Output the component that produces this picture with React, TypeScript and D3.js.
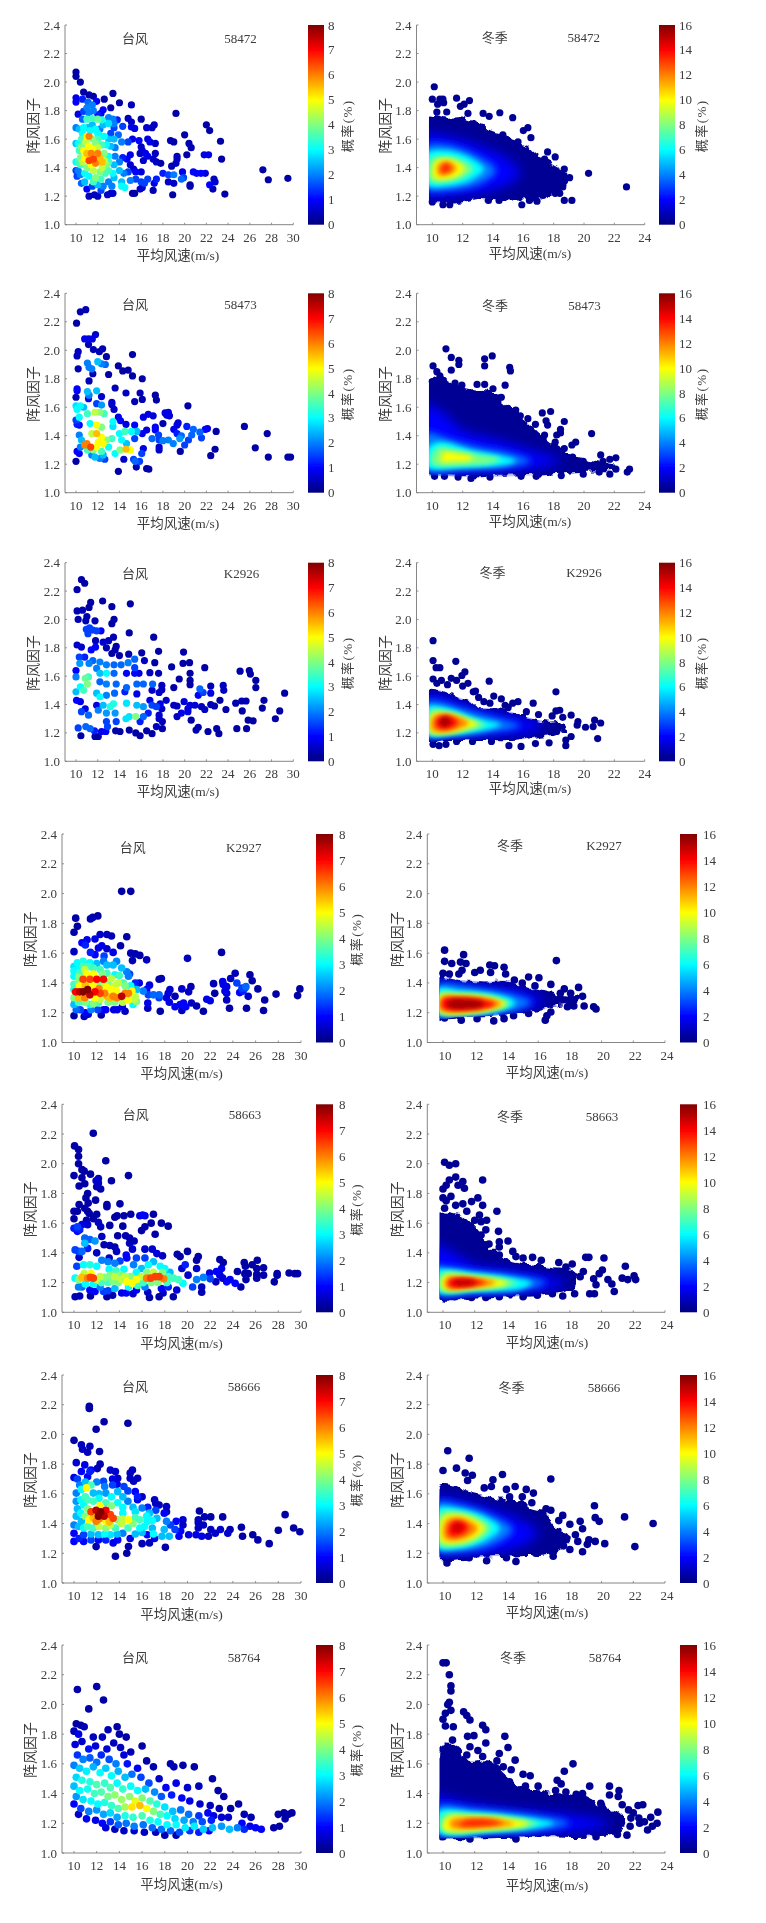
import React from "react";
import * as d3 from "d3";

type P = number[];
const stations = ["58472", "58473", "K2926", "K2927", "58663", "58666", "58764"];
const yTicks = [1.0, 1.2, 1.4, 1.6, 1.8, 2.0, 2.2, 2.4];
const xTicksTyphoon = [10, 12, 14, 16, 18, 20, 22, 24, 26, 28, 30];
const xTicksWinter = [10, 12, 14, 16, 18, 20, 22, 24];
const cbTicksTyphoon = [0, 1, 2, 3, 4, 5, 6, 7, 8];
const cbTicksWinter = [0, 2, 4, 6, 8, 10, 12, 14, 16];

const typhoon58472: P[] = [[10,2.07,.3],[10,2.04,.3],[10.4,2,.3],[10.7,1.93,.3],[10,1.89,.8],[11.2,1.91,.3],[11.6,1.9,.3],[12.6,1.88,.3],[13.4,1.92,.3],[14,1.855,.3],[15.1,1.84,.5],[11.9,1.865,1],[13.2,1.82,.3],[10,1.86,1],[10.6,1.88,1.2],[11.1,1.86,1.8],[11.5,1.84,2],[11,1.82,2],[11.6,1.8,2],[11.2,1.78,2],[10.2,1.775,.8],[10.7,1.795,1.5],[12.5,1.805,1],[12.3,1.78,.8],[12,1.77,1.2],[11,1.74,3.5],[11.5,1.745,3.5],[12,1.74,3.8],[12.4,1.735,3.2],[13,1.75,2],[13.4,1.74,2],[13.8,1.735,1.2],[14.8,1.745,.5],[15.1,1.72,.5],[15.1,1.685,.8],[15.4,1.675,.8],[16,1.74,.3],[13,1.71,2.8],[13.5,1.71,2],[13.5,1.68,1.5],[14.3,1.69,1.5],[12.5,1.7,2.5],[11.2,1.62,6],[11,1.5,5.5],[11.2,1.45,6.5],[11.6,1.46,6.5],[12,1.5,6],[12.4,1.44,5.5],[10.7,1.52,5],[11,1.62,5],[10.9,1.58,4.5],[11.5,1.6,4],[12,1.6,3.5],[12.4,1.62,3],[10.5,1.6,3.5],[10.2,1.57,3],[10,1.57,2.5],[10.3,1.52,3.5],[10.2,1.44,3.5],[10,1.44,3],[10.6,1.44,4.5],[11.5,1.53,5],[12,1.54,4.5],[12.6,1.5,4],[12.8,1.42,4],[11,1.4,4],[11.6,1.38,4.5],[12.2,1.37,4],[12.7,1.36,3.5],[11.2,1.34,3],[11.8,1.33,4],[12.3,1.32,3.5],[10.8,1.3,2.5],[12,1.28,2.5],[12.5,1.27,2],[10.2,1.38,2],[10.4,1.35,2],[10,1.38,1.5],[10.1,1.34,1.5],[10.5,1.29,1.8],[11,1.25,1],[11.5,1.27,1.5],[12.3,1.24,1.5],[11.2,1.2,.5],[11.7,1.21,.5],[12,1.2,.5],[12.9,1.21,.6],[13.2,1.22,.6],[13.4,1.22,.6],[13,1.3,2],[13.3,1.27,2],[14.2,1.27,3],[14.5,1.26,3],[15,1.31,2],[13.5,1.33,2.5],[13,1.38,3.5],[13.5,1.42,2.5],[14,1.38,2.5],[13,1.48,3],[13.6,1.48,2],[13.2,1.55,2.5],[12.8,1.56,3],[13.5,1.6,2.5],[13.9,1.63,1.8],[13.2,1.64,1.5],[12.2,1.67,2],[11.1,1.68,2.5],[10.3,1.67,2.5],[10,1.68,2],[10.7,1.68,3],[11.5,1.7,2.5],[12.6,1.62,3],[14.2,1.58,2],[14.8,1.58,1.5],[14.3,1.47,1.2],[14.7,1.46,1],[15,1.49,.8],[15,1.42,.6],[15.3,1.39,.6],[14.8,1.37,1.5],[15.5,1.37,1],[16,1.37,.7],[15.2,1.22,.3],[15.4,1.22,.3],[15.9,1.25,.6],[16.1,1.26,.6],[15.5,1.32,1.5],[16,1.3,1.5],[16.6,1.32,1.5],[16.3,1.29,1.5],[17.2,1.29,.8],[17.4,1.32,1.2],[17.1,1.24,.4],[15.2,1.6,.8],[15.8,1.59,1],[16.6,1.6,.8],[16.8,1.58,.8],[16,1.545,.5],[16.1,1.52,.6],[15.9,1.5,.6],[16.4,1.5,.8],[16.2,1.45,.6],[16.6,1.48,.8],[17.3,1.57,.5],[17.3,1.5,.5],[17.1,1.46,.5],[17.4,1.44,.5],[17.8,1.43,.3],[16.5,1.68,.6],[17,1.68,.5],[17.2,1.7,.5],[19.2,1.78,.3],[18.7,1.59,.4],[19,1.58,.3],[20,1.63,.3],[20.4,1.57,.4],[20.6,1.54,.4],[19.3,1.48,.5],[19.3,1.46,.5],[19.2,1.43,.5],[20.2,1.49,.3],[18.8,1.41,.4],[18.5,1.3,.6],[18,1.36,1.2],[18.5,1.35,1.5],[19,1.35,2],[19,1.29,.5],[19.8,1.37,.8],[19.9,1.33,1.5],[19.7,1.32,1.8],[18.9,1.21,.3],[20.5,1.28,.4],[20.5,1.27,.4],[20.8,1.37,1],[21.1,1.36,1],[21.5,1.36,1],[21.9,1.36,.7],[22,1.7,.3],[22.3,1.66,.3],[22.2,1.49,.8],[21.8,1.49,.8],[23.3,1.585,.3],[23.4,1.46,.3],[22.7,1.32,.5],[22.8,1.3,.6],[22.3,1.28,1],[22.6,1.25,.4],[23.7,1.215,.3],[27.2,1.385,.3],[27.7,1.315,.3],[29.5,1.325,.3],[10.4,1.47,4],[10.8,1.47,5],[11.4,1.5,6],[11.8,1.43,6],[12.2,1.47,5.5],[12.6,1.45,4.5],[10.5,1.55,4],[11.2,1.55,5],[11.8,1.57,4],[11.3,1.66,3],[10.6,1.64,3],[12.4,1.56,3.5],[13,1.6,2.5],[12,1.64,3],[13,1.44,3.5],[11.4,1.42,5],[10.8,1.36,3],[12.4,1.4,4.5],[13.4,1.36,3],[11.6,1.3,3.5],[10.4,1.42,3.5],[13.6,1.54,2],[10.6,1.74,1.8],[11.8,1.67,3],[14,1.44,2],[14.4,1.36,2],[14.2,1.3,2.5]];

const typhoon58473: P[] = [[10.9,2.285,.4],[10.4,2.27,.4],[10.05,2.19,.3],[10.8,2.08,.8],[11.15,2.08,.8],[11.5,2.08,.8],[11.8,2.11,.6],[11.15,2.04,.4],[11.6,2.005,.4],[12.15,1.99,.4],[12.45,2.01,.4],[12.8,1.955,.3],[10.2,1.99,.5],[10.1,1.96,.5],[15.2,1.97,.3],[10.2,1.87,.4],[11.05,1.91,2],[11.2,1.88,2],[11.45,1.87,2],[12,1.92,2.5],[12.35,1.905,2],[12.7,1.9,1.8],[11.55,1.835,.4],[13,1.83,.3],[13.9,1.89,.3],[14.3,1.855,.3],[14.8,1.86,.3],[15.2,1.82,.3],[16.1,1.8,.3],[11.2,1.785,.4],[10.1,1.73,1],[10.1,1.715,1],[10,1.67,.4],[11.05,1.71,2.5],[11.2,1.685,2],[11.15,1.66,.8],[11.9,1.715,2.5],[12.35,1.675,.6],[13.6,1.735,.4],[14.6,1.7,.5],[15.9,1.7,.4],[16.1,1.655,.4],[15.4,1.64,.4],[17.3,1.685,.3],[17.4,1.65,.3],[13.3,1.635,.6],[13.3,1.62,.6],[13.5,1.585,.6],[20.3,1.61,.3],[10,1.61,2.8],[10.4,1.61,3],[10.1,1.585,3],[10.7,1.6,2.5],[11.9,1.625,1.5],[12.35,1.615,2.2],[11.05,1.555,3.5],[11.75,1.565,4.5],[12.2,1.565,4],[12.6,1.555,3.5],[10.3,1.53,3],[10,1.51,1.5],[10.1,1.48,1.2],[10.3,1.475,1],[11.3,1.485,3],[11.9,1.475,5],[12.35,1.46,4],[13.4,1.5,3],[13.4,1.465,2.8],[13.9,1.53,.8],[14.1,1.505,1],[14.6,1.48,.7],[15.4,1.475,1],[16.2,1.53,.8],[16.65,1.55,.8],[17.1,1.54,.7],[16.5,1.44,.7],[16.1,1.415,.9],[17.3,1.46,1],[17.3,1.44,1],[17,1.38,1.8],[17.6,1.405,1.5],[18,1.485,.4],[18.2,1.56,.8],[18.5,1.565,.8],[18.35,1.545,.8],[18.6,1.54,.6],[19.4,1.49,.7],[19.3,1.475,.7],[19,1.445,.9],[19.3,1.415,1.2],[20.2,1.465,1.2],[19.7,1.4,1.8],[19.55,1.38,2.2],[20.8,1.445,1.8],[21.4,1.425,1.8],[21.9,1.445,1],[22.1,1.45,.8],[21.55,1.385,1.5],[20.65,1.405,1.8],[20.35,1.37,1.5],[20,1.335,1.5],[17.65,1.37,1.5],[18,1.365,2],[18.5,1.37,2],[18.95,1.345,2],[17.65,1.32,.6],[17.65,1.3,.6],[19.6,1.29,.3],[22.9,1.43,.3],[25.5,1.465,.3],[27.6,1.415,.3],[26.5,1.315,.3],[22.8,1.305,.3],[22.4,1.26,.3],[27.7,1.25,.3],[29.5,1.25,.3],[29.75,1.25,.3],[11,1.345,6],[11.35,1.32,6.5],[10.8,1.335,6],[11.6,1.3,4],[11.05,1.3,3.5],[10.5,1.37,2.5],[10.3,1.405,2],[10.4,1.32,2],[10.1,1.29,1],[10.3,1.275,1],[10,1.22,.3],[11.45,1.265,2],[12.05,1.355,5],[12.35,1.39,5],[11.9,1.415,5.5],[11.45,1.415,4.5],[12.5,1.345,5],[11.9,1.32,5],[12.8,1.37,4],[13.3,1.38,3.5],[13,1.32,3],[12.35,1.29,3.5],[11.75,1.25,2.5],[12.2,1.24,2],[12.65,1.235,1.5],[12.5,1.265,2.5],[13.6,1.275,3],[14.05,1.3,4],[14.6,1.305,5.5],[15,1.3,5],[14.2,1.37,3],[14.5,1.43,3.5],[15.1,1.43,3],[15.6,1.43,2.5],[14,1.415,3],[14.65,1.345,2.5],[15.4,1.38,1.5],[14.4,1.235,.6],[15.3,1.235,1.5],[15.45,1.22,1.8],[15.85,1.22,1.5],[16.05,1.275,1.5],[16.2,1.31,.8],[15.55,1.18,.4],[16.5,1.17,.3],[16.7,1.165,.3],[13.9,1.15,.3]];

const typhoonK2926: P[] = [[10.5,2.28,.3],[10.8,2.255,.3],[10.1,2.21,.3],[11.35,2.12,.3],[12.45,2.13,.3],[13.3,2.09,.3],[15,2.11,.3],[11.2,2.085,.3],[10.1,2.06,.4],[10.6,2.065,.4],[11,2.02,.4],[10.9,1.99,.4],[10.2,2,.4],[11.75,1.99,.4],[13.5,2,.3],[13.3,1.97,.3],[10.95,1.93,1.5],[11.25,1.94,1.5],[11.55,1.925,1.5],[11.1,1.9,1.5],[11.9,1.92,1.5],[12.3,1.92,1],[14.9,1.905,.3],[17.15,1.875,.3],[13.45,1.875,.4],[13,1.85,.5],[12.5,1.84,.6],[11.8,1.85,.4],[10.1,1.82,.6],[10.5,1.805,.6],[11.8,1.805,1],[11.4,1.785,1],[12.8,1.8,.4],[13.7,1.81,.3],[13.6,1.785,.3],[13.3,1.76,.3],[14,1.745,.3],[14.85,1.755,.4],[16.05,1.765,.3],[17.6,1.775,.3],[19.9,1.77,.3],[16.3,1.71,.5],[17.25,1.695,.3],[18.8,1.665,.3],[19.85,1.69,.3],[20.45,1.695,.3],[21.85,1.66,.3],[20.5,1.62,.3],[19.5,1.58,.3],[25.1,1.635,.3],[25.95,1.64,.3],[26.05,1.615,.3],[26.55,1.57,.3],[26.55,1.52,.3],[20.5,1.57,.3],[20.5,1.54,.3],[19,1.52,.3],[17.6,1.62,.4],[16.8,1.625,.5],[17.9,1.535,.5],[17.65,1.485,.6],[17.9,1.505,.5],[23.55,1.535,.5],[22.4,1.53,.4],[23.6,1.5,.5],[21.4,1.51,1.8],[21.7,1.485,1.5],[21.25,1.465,1],[22.4,1.48,.8],[29.2,1.48,.3],[27.3,1.43,.3],[27.15,1.375,.3],[28.75,1.355,.3],[28.35,1.3,.3],[26.3,1.285,.3],[25.85,1.29,.3],[25.7,1.23,.3],[24.8,1.23,.3],[25.3,1.355,.3],[25.65,1.425,.4],[25.25,1.425,.4],[24.7,1.41,.4],[23.8,1.365,.3],[23.25,1.43,.3],[22.75,1.39,.4],[22.4,1.4,.4],[21.85,1.365,.5],[21.55,1.385,.5],[20.95,1.395,.7],[20.5,1.395,.7],[20.3,1.37,.7],[19.95,1.42,.7],[19.3,1.39,.5],[19,1.395,.5],[20.3,1.35,.8],[19.7,1.34,.8],[19.3,1.315,.5],[20.6,1.29,.3],[21.25,1.24,.4],[21.05,1.22,.4],[22.15,1.21,.3],[22.95,1.23,.3],[23.15,1.195,.3],[18.3,1.43,.6],[17.75,1.405,.8],[17.9,1.37,.6],[17.65,1.325,.6],[17.95,1.28,.4],[17.95,1.23,.3],[17.4,1.245,.5],[17.65,1.3,.6],[17,1.195,.3],[16.5,1.215,.3],[15.9,1.18,.3],[15.5,1.2,.3],[14.9,1.22,.3],[14.05,1.21,.3],[13.65,1.215,.3],[11.75,1.175,.3],[12.05,1.175,.3],[10.45,1.18,.3],[10.2,1.235,1.5],[10.9,1.245,1.8],[11.3,1.23,1.8],[11.7,1.215,1.2],[12.35,1.21,.8],[12.75,1.21,1],[12.9,1.245,1.5],[12.8,1.28,1.5],[13.7,1.28,1.5],[14.9,1.315,2.8],[15.5,1.315,4],[14.6,1.3,2.8],[16.2,1.315,1.8],[15.9,1.28,1.2],[16.65,1.34,1.2],[16.2,1.385,2.2],[15.6,1.395,2.5],[14.65,1.41,2.8],[13.45,1.405,3.2],[13.15,1.385,3.2],[12.5,1.395,2.5],[13.6,1.34,2.2],[12.8,1.34,2.2],[12.05,1.36,2],[11.15,1.325,1.8],[10.5,1.35,1.5],[10.85,1.37,.8],[11.9,1.395,.8],[10.05,1.43,1],[10.4,1.42,.8],[10,1.49,2.5],[10.7,1.5,3.5],[11.05,1.545,4],[10.85,1.585,3.8],[11.15,1.595,3.5],[10.4,1.525,3],[10,1.595,2],[10,1.64,1],[10.3,1.735,1.5],[10.35,1.69,2.2],[10.8,1.735,1.2],[11.2,1.69,2],[11.55,1.71,1.8],[12.2,1.7,2],[11.9,1.655,2],[12.8,1.68,2],[13.5,1.68,1.8],[14.15,1.68,1.8],[14.8,1.695,2],[15.4,1.72,1.8],[15.4,1.66,1.5],[12.8,1.62,3],[12.2,1.62,2.5],[13.5,1.62,1.8],[14.65,1.62,1],[15.4,1.62,1],[15.8,1.62,.8],[12.2,1.56,1.8],[12.8,1.545,2],[13.7,1.545,1.8],[14.65,1.52,1.8],[15.6,1.545,1.8],[16.2,1.545,1.8],[17.05,1.545,1.8],[15.6,1.475,.8],[14.5,1.49,1.2],[13.55,1.48,1.8],[12.8,1.465,2],[11.9,1.48,2.5],[12.2,1.455,3],[16.8,1.43,.8],[17,1.5,.6],[17,1.395,1.5],[17.4,1.385,1.5]];

const typhoonK2927: P[] = [[14.2,2.015,.3],[15,2.015,.3],[10.15,1.835,.3],[10.3,1.78,.3],[10,1.74,.3],[11.45,1.83,.4],[11.65,1.84,.4],[12.1,1.85,.3],[11.15,1.69,.8],[10.7,1.67,1],[11,1.655,1.2],[11.85,1.695,.8],[12.3,1.725,.6],[12.9,1.725,.5],[13.3,1.715,.4],[14.65,1.71,.3],[10,1.61,.5],[12.15,1.635,.8],[12.45,1.65,.8],[12.9,1.63,.6],[14.1,1.65,.3],[13.45,1.605,.8],[11.45,1.605,1.2],[11.85,1.59,1],[15,1.6,.4],[15.4,1.595,.4],[15.8,1.585,.3],[16.4,1.555,.5],[15.15,1.55,.4],[12.65,1.58,1.5],[20,1.565,.5],[23,1.605,.3],[10.8,1.34,8],[11.2,1.355,8],[10.5,1.34,7.5],[10.15,1.34,7],[11.4,1.32,7.5],[11.85,1.34,7],[12.3,1.33,6.5],[10.95,1.3,6],[10.4,1.3,5.5],[11.85,1.3,5],[10.8,1.425,6.5],[11.4,1.425,6.5],[12,1.425,7],[12.6,1.425,7],[11.25,1.39,5],[12.3,1.39,4],[10.4,1.4,4],[10,1.355,3],[10,1.445,3],[10.5,1.465,3.5],[10,1.51,2.8],[10.3,1.535,3],[10.8,1.545,3.2],[11.4,1.535,3],[11.7,1.5,3.5],[10.95,1.49,4.5],[12.3,1.49,3.5],[12.9,1.465,3.5],[13.45,1.52,2.5],[12.6,1.545,2],[13.75,1.545,2],[14.2,1.5,2.5],[13.6,1.455,3],[13,1.4,4],[13.9,1.4,4.5],[14.35,1.4,3.5],[14.8,1.445,2],[14.65,1.475,2],[14.9,1.46,1.5],[13.3,1.355,5],[12.9,1.31,5.5],[13.45,1.31,6],[14.2,1.31,7.5],[14.5,1.33,6],[13.75,1.345,5],[15.1,1.345,5],[14.8,1.285,5],[15.4,1.31,4.5],[15.5,1.275,4],[15.2,1.255,3],[12.15,1.265,3.5],[11.4,1.255,3],[10.7,1.275,3],[10,1.255,2.5],[10.1,1.275,2.5],[10.55,1.22,1.5],[11,1.2,1],[11.25,1.19,.6],[10,1.18,.3],[10.9,1.175,.4],[12.6,1.22,1],[12.8,1.22,1],[12.4,1.185,.3],[13.5,1.22,.8],[13.8,1.22,.8],[14.25,1.24,.8],[14.5,1.21,.5],[15.75,1.4,.8],[15.4,1.4,1.2],[15.5,1.355,2.5],[16.1,1.345,2],[16.55,1.32,1.5],[17,1.32,1.8],[17.5,1.32,1.8],[17.5,1.3,1.5],[16.65,1.385,.8],[16.4,1.355,1],[16.5,1.23,.5],[16.5,1.265,.8],[17.6,1.21,.3],[17.5,1.425,.4],[17.7,1.43,.4],[18.45,1.355,.6],[18.3,1.33,.7],[18.15,1.3,.7],[18.4,1.27,.8],[18.9,1.31,.4],[18.9,1.24,.9],[19.5,1.36,.6],[20.3,1.375,.4],[20.1,1.34,.5],[19.35,1.255,1],[19.65,1.265,1],[19.85,1.24,1],[19.5,1.215,.5],[20.35,1.265,.5],[20.8,1.245,.4],[21.4,1.21,.3],[21.7,1.29,.8],[22,1.28,.8],[22.4,1.33,.3],[22.3,1.395,.4],[23.1,1.41,.8],[23.15,1.39,.8],[23.45,1.375,.8],[23.3,1.345,.8],[23.45,1.33,.7],[23.45,1.285,.5],[23.7,1.23,.3],[23.8,1.43,.5],[24.2,1.465,.4],[24.35,1.4,1.5],[24.6,1.335,1],[24.8,1.365,1.5],[25.05,1.365,1.5],[25.15,1.375,1.8],[24.9,1.345,1.2],[25.2,1.23,.3],[25.35,1.31,.6],[25.5,1.455,.3],[25.7,1.415,.3],[26.2,1.36,.3],[26.8,1.285,.3],[26.7,1.215,.3],[27.8,1.325,.3],[29.7,1.315,.3],[29.9,1.36,.3],[10.5,1.38,5],[11,1.38,5.5],[11.7,1.38,5],[12.7,1.38,4.5],[12.2,1.36,6],[12.7,1.33,6],[13.2,1.3,5.5],[13.8,1.3,6],[12.3,1.29,4.5],[13,1.27,4],[13.6,1.27,4],[14.3,1.27,4.5],[11,1.27,4],[10.4,1.27,3.5],[11.7,1.26,4],[10.4,1.44,4],[11.1,1.46,5],[11.7,1.46,5],[12.5,1.46,4],[13.3,1.43,4.5],[14,1.45,3.5],[10.8,1.51,3.5],[11.3,1.51,3.5],[12,1.53,2.5],[12.9,1.52,2.5],[14.5,1.38,4],[15,1.38,3],[15.3,1.29,4.5],[14.8,1.33,6],[10,1.3,4],[10,1.39,3.5],[10,1.48,3],[10.5,1.51,3],[12.9,1.37,5],[13.6,1.38,4.5],[10.2,1.22,1.8],[11.5,1.22,2],[12.1,1.22,1.5]];

const typhoon58663: P[] = [[11.7,2.205,.3],[10.05,2.12,.3],[10.4,2.095,.3],[10.4,2.05,.3],[12.8,2.02,.3],[10.4,2,.3],[10,1.92,.3],[10.7,1.96,.3],[10.9,1.95,.3],[10.7,1.905,.3],[11.45,1.93,.3],[14.8,1.92,.3],[12.15,1.9,.5],[11.95,1.885,.6],[13.3,1.885,.3],[12.15,1.87,.5],[12,1.845,.4],[12.35,1.83,.4],[10.95,1.865,.3],[10.45,1.85,.3],[11.2,1.8,.3],[11.05,1.77,.3],[11.9,1.755,.3],[11.25,1.735,.3],[10.45,1.725,.3],[10.95,1.7,.3],[12.9,1.725,.3],[12.9,1.71,.3],[14.05,1.73,.3],[10,1.68,.3],[10.3,1.68,.3],[11.2,1.68,.3],[11.35,1.665,.3],[10,1.63,.3],[12,1.66,.3],[11.7,1.63,.3],[11.1,1.62,.4],[13.6,1.64,.3],[13.8,1.65,.3],[14.4,1.65,.3],[15,1.66,.3],[15.8,1.65,.8],[16.05,1.655,1],[16.25,1.65,.8],[17,1.66,.3],[16.8,1.6,.3],[17.7,1.6,.3],[18.3,1.58,.3],[16.25,1.575,.3],[15.95,1.55,.3],[17.15,1.525,.3],[12.15,1.605,.5],[12.35,1.575,.5],[13.15,1.585,.3],[14.3,1.58,.3],[10,1.565,1.2],[10.3,1.575,1.5],[10.5,1.555,1.2],[10.3,1.545,1],[10.7,1.59,.8],[11.2,1.59,.6],[12.45,1.51,.5],[13.85,1.515,.3],[14.55,1.515,.4],[14.9,1.5,.4],[15.3,1.48,.4],[14.9,1.465,.4],[12.65,1.455,.4],[13.15,1.45,.4],[13.6,1.44,.4],[13.75,1.41,.5],[15.15,1.425,.6],[16.25,1.425,.6],[16.9,1.425,.6],[17.3,1.395,.7],[12,1.4,.5],[10.45,1.37,.6],[13.1,1.365,.5],[20,1.41,.3],[19.1,1.39,.3],[19.35,1.375,.3],[17.8,1.38,.5],[20.95,1.375,.3],[20.8,1.35,.3],[22.85,1.355,.3],[23.15,1.335,.3],[26.15,1.35,.3],[25,1.335,.3],[25.1,1.31,.3],[25.7,1.32,.3],[26.1,1.295,.3],[26.7,1.3,.3],[24.4,1.275,.3],[25.05,1.26,.3],[25.35,1.26,.3],[26.1,1.255,.3],[26.7,1.25,.3],[26.1,1.23,.3],[25.15,1.22,.3],[27.9,1.26,.3],[27.9,1.25,.3],[27.65,1.205,.3],[28.95,1.265,.3],[29.45,1.26,.3],[29.7,1.26,.3],[24.7,1.17,.3],[10.7,1.235,5.5],[11.2,1.23,6],[11.7,1.23,6.5],[11.45,1.235,6.5],[12,1.22,4.5],[12.75,1.235,4],[13.2,1.25,4],[13.6,1.24,4.5],[14.05,1.25,4],[14.2,1.22,4.5],[14.65,1.205,5],[15.1,1.195,5],[15.5,1.22,5],[15.95,1.24,4.5],[16.4,1.23,6],[16.75,1.23,6.5],[17.15,1.24,6.5],[17.5,1.24,6.5],[17.9,1.225,6],[18.3,1.24,3.5],[18.45,1.27,2.5],[18.75,1.23,3.5],[19.2,1.22,3.5],[19.6,1.195,3],[20.45,1.17,1.5],[20.8,1.22,2],[21.4,1.235,2],[22,1.225,1.5],[21.95,1.265,.8],[22.5,1.205,.5],[22.55,1.275,1],[23,1.295,.8],[22.85,1.25,.7],[23.1,1.23,.7],[23.45,1.205,1],[23.75,1.22,1],[24.2,1.195,1],[21.25,1.17,.5],[21.25,1.135,.4],[10.25,1.31,1.5],[10.85,1.32,3],[11.4,1.32,3.2],[12,1.31,3],[12.45,1.35,2],[13,1.34,2],[13.6,1.33,2],[14.05,1.345,1.5],[15.25,1.32,2],[15.95,1.295,2.5],[16.55,1.32,3],[17,1.34,2.5],[17.6,1.31,3],[18,1.295,3],[16.25,1.365,1.5],[15.5,1.365,1.5],[14.65,1.365,1],[14.6,1.385,1],[10.1,1.23,3],[10.4,1.17,2],[10.7,1.17,1.8],[10.1,1.105,.4],[10.5,1.11,.4],[11.4,1.15,1],[11.85,1.14,1],[11.45,1.11,.3],[12.6,1.14,1.5],[12.3,1.17,2],[12.9,1.105,.3],[13.4,1.115,.4],[13,1.145,1.5],[13.6,1.16,2.5],[14.2,1.13,.8],[14.6,1.13,1],[15.2,1.125,.6],[15.5,1.15,1],[16.25,1.17,2],[16.5,1.135,.5],[16.65,1.1,.3],[17.5,1.105,.3],[17.85,1.13,.5],[17.7,1.16,1],[18.3,1.17,1.2],[18.75,1.105,.3],[19.05,1.15,.7],[10.1,1.42,1.5],[10.7,1.41,1.8],[10.95,1.5,1.8],[11.4,1.49,1.8],[11.85,1.48,2.2],[10.95,1.465,2.5],[11.2,1.43,1.2],[10.4,1.41,1.5],[19.8,1.32,1.2],[19.5,1.295,.7],[20.05,1.25,.6],[20.8,1.295,.6],[10.4,1.22,4],[10.9,1.26,4.5],[11.5,1.26,5],[12.3,1.24,4.5],[12.4,1.2,3.5],[13,1.2,3.5],[13.4,1.21,4],[13.9,1.2,4],[14.5,1.24,4.5],[15,1.24,4],[15.5,1.27,3],[14.8,1.17,3],[15.6,1.18,3.5],[16.1,1.2,3.5],[16.8,1.2,4],[17.4,1.2,4],[18.2,1.2,3.5],[16.4,1.27,4],[17,1.27,4.5],[17.8,1.27,4],[13.1,1.29,3],[13.7,1.28,3.5],[14.4,1.29,3],[11,1.19,3],[11.7,1.19,3]];

const typhoon58666: P[] = [[11.35,2.19,.3],[11.35,2.175,.3],[11.95,2.035,.3],[12.65,2.085,.3],[14.75,2.075,.3],[10,1.96,.3],[10.65,1.93,.5],[11.4,1.92,.5],[10.75,1.9,.5],[11.2,1.88,.5],[12.25,1.885,.3],[10.2,1.81,.6],[12.3,1.8,.4],[12.05,1.77,.4],[10.95,1.795,.8],[10,1.71,.8],[10.65,1.75,1],[11.5,1.76,1],[13.2,1.76,.6],[13.65,1.75,.6],[13.85,1.705,.5],[15.15,1.76,.5],[14.95,1.74,.5],[15.6,1.705,.5],[14.95,1.705,.5],[11.2,1.715,1],[12.6,1.685,1.5],[13.8,1.665,.8],[15.25,1.685,.5],[11.1,1.64,5],[10.65,1.63,3],[11.5,1.66,3.5],[11.7,1.605,2.5],[10.2,1.605,2],[12.8,1.605,2.2],[13.85,1.615,2.5],[14.75,1.62,1.5],[15.4,1.615,1],[16,1.58,.5],[14.75,1.55,2],[15.6,1.56,.8],[10.2,1.55,2.2],[10.85,1.525,3],[11.7,1.55,3.5],[12.8,1.54,3.5],[13.85,1.54,3],[17.1,1.56,.5],[17.2,1.535,.5],[17.5,1.525,.5],[18.15,1.515,.5],[18.15,1.48,.5],[10.2,1.45,2.5],[10,1.39,2],[10.65,1.415,2.5],[11.5,1.48,6.5],[11.95,1.49,7.5],[12.35,1.48,8],[12.8,1.49,7],[12.15,1.45,8],[12.65,1.45,7.5],[13.2,1.46,6.5],[13.45,1.435,6.5],[11.95,1.415,6],[11.3,1.425,5],[12.8,1.415,5],[13.85,1.425,4],[14.8,1.425,5],[14.3,1.47,3],[15.4,1.48,2.8],[16,1.505,2],[16.65,1.47,2.5],[17.95,1.47,1],[15.8,1.425,3.5],[16.45,1.415,3],[17.3,1.435,2.5],[18.15,1.415,2],[19,1.415,1],[19.6,1.425,.6],[19.6,1.39,.6],[10.85,1.37,3],[11.7,1.37,3.5],[12.8,1.37,4],[13.65,1.37,3.5],[14.75,1.37,3.5],[15.8,1.37,3],[16.9,1.37,2.5],[17.95,1.36,2.5],[10,1.335,1],[10.85,1.325,1.5],[12.15,1.325,2.5],[13.2,1.325,2.8],[14.3,1.335,2],[16.45,1.325,1],[17.75,1.315,2.5],[18.4,1.315,2.5],[19.25,1.315,1],[20.1,1.325,.8],[20.75,1.325,.8],[21.25,1.315,.8],[20.95,1.37,.5],[20.95,1.405,.5],[21.05,1.485,.3],[21.5,1.445,.4],[22.05,1.445,.3],[21.4,1.39,.5],[20.95,1.425,.4],[23.1,1.445,.3],[22.05,1.36,.5],[21.85,1.315,.5],[22.45,1.335,.6],[22.9,1.36,.6],[23.55,1.335,.6],[23.75,1.36,.4],[24.75,1.375,.3],[24.85,1.315,.3],[25.75,1.325,.3],[26.2,1.29,.3],[27.2,1.265,.3],[28,1.355,.3],[28.6,1.46,.3],[29.35,1.37,.3],[29.9,1.345,.3],[10,1.28,1],[10.85,1.28,1],[11.95,1.245,.3],[12.15,1.29,1],[13.45,1.27,.8],[13.85,1.29,1],[14.95,1.3,.8],[14.8,1.245,.4],[13.65,1.18,.3],[14.65,1.2,.3],[16,1.265,.4],[16.65,1.27,.5],[17.1,1.3,.8],[18.05,1.24,.3],[10.45,1.3,1.2],[11.5,1.29,1.5],[12.8,1.29,1.2],[11.2,1.56,3.5],[11.2,1.5,4],[10.6,1.47,3],[10.6,1.56,3],[11,1.58,3.5],[10.3,1.5,2.5],[12.2,1.57,3],[12.2,1.6,2.5],[13.3,1.58,3],[14.3,1.58,2.5],[13.3,1.52,4],[14.3,1.51,3],[15.2,1.51,2.5],[12.3,1.52,5],[11.2,1.38,3.5],[12.2,1.38,4.5],[13.2,1.39,4.5],[14.2,1.4,4.5],[15.2,1.4,4],[16.2,1.38,3],[16.9,1.42,3],[11.5,1.33,2.5],[12.7,1.33,3],[13.8,1.33,2.5],[15.4,1.33,2.5],[16,1.34,2.5],[17,1.33,3],[12.2,1.43,6],[13.1,1.41,5.5],[11.7,1.44,5.5],[14.3,1.43,4.5],[15.4,1.44,3.5],[16.4,1.45,3],[11,1.45,4],[10.4,1.38,2.5],[10.5,1.66,2],[10.3,1.7,1.5],[11,1.68,2.5],[11.4,1.75,1.2],[12,1.68,2],[12.7,1.65,2],[13.4,1.66,1.5],[14.4,1.65,1.5],[15.6,1.58,1.2],[16.5,1.51,1.2],[17.2,1.49,1.5],[13.4,1.7,.8],[18.9,1.36,1.5],[19.4,1.35,1],[18.5,1.39,1.5]];

const typhoon58764: P[] = [[10.3,2.1,.3],[12,2.12,.3],[12.6,2.03,.3],[11.3,1.97,.3],[10.2,1.87,.3],[10.6,1.86,.3],[10.9,1.85,.4],[10,1.82,.4],[10.4,1.8,.8],[13.8,1.85,.3],[14,1.8,.3],[13,1.83,.4],[14.6,1.78,.3],[12.5,1.78,.5],[11.7,1.78,.5],[10.1,1.73,.7],[10.7,1.75,.6],[11.3,1.7,1.1],[11.9,1.72,.7],[12.9,1.7,.7],[13.5,1.74,.5],[14.1,1.71,.5],[15,1.68,.4],[14.4,1.66,.7],[16,1.72,.3],[16.4,1.62,.3],[10.3,1.66,1.4],[10.8,1.63,2],[11.4,1.64,1.7],[12,1.61,1.9],[12.4,1.66,1.3],[13.1,1.63,1.6],[13.7,1.6,2],[14.7,1.6,1.1],[15.6,1.57,.9],[17,1.58,.4],[18.5,1.6,.4],[18.8,1.58,.4],[19.6,1.59,.3],[20.6,1.58,.3],[10,1.59,2],[10.5,1.57,2.6],[11.1,1.55,2.9],[11.7,1.58,2.4],[12.3,1.54,3],[12.8,1.57,2.6],[13.3,1.52,3],[13.9,1.55,2.4],[14.5,1.51,2.5],[15.1,1.53,1.9],[15.9,1.51,1.5],[16.6,1.47,1.6],[17.5,1.5,.6],[18.1,1.44,1],[19,1.47,.8],[20,1.44,.6],[21,1.45,.5],[22.2,1.5,.3],[22.7,1.42,.3],[23.2,1.38,.3],[10.2,1.51,2.7],[10.7,1.49,3.2],[11.4,1.48,3.3],[12,1.46,3.6],[12.7,1.47,3.4],[13.2,1.44,3.6],[13.8,1.47,3],[14.3,1.43,3.4],[15,1.45,3],[15.6,1.42,3],[16.3,1.43,2.5],[17.1,1.41,2.1],[17.7,1.38,1.7],[18.6,1.39,1.2],[19.5,1.37,1],[20.2,1.35,.8],[21.1,1.33,.6],[22,1.32,.5],[10,1.45,2.5],[10.5,1.42,3],[11.2,1.43,3.1],[11.8,1.4,3.5],[12.4,1.41,3.6],[13,1.38,3.9],[13.6,1.39,4.1],[14.2,1.36,4.2],[14.9,1.38,4.1],[15.4,1.35,4.8],[16,1.37,4],[16.7,1.35,3.6],[17.3,1.33,3.3],[18,1.31,2.8],[18.7,1.28,2.5],[19.4,1.29,1.9],[20.1,1.26,1.9],[21,1.25,1.4],[21.8,1.27,1],[10.2,1.38,2.2],[10.8,1.36,2.8],[11.5,1.35,3],[12.1,1.33,3],[12.7,1.34,3.2],[13.3,1.32,3.4],[13.9,1.3,3.6],[14.5,1.31,4.3],[15.1,1.31,5.2],[15.8,1.32,5.5],[16.4,1.3,5],[17,1.28,4],[17.6,1.26,3.5],[18.2,1.25,3],[18.9,1.23,2.7],[19.7,1.22,2.3],[20.5,1.21,2],[21.3,1.21,1.6],[22.1,1.22,1.2],[10,1.33,1],[10.6,1.3,1.5],[11.3,1.28,2],[12,1.29,2.2],[12.6,1.26,2.3],[13.2,1.27,2.7],[13.8,1.24,2.3],[14.5,1.25,3.2],[15.2,1.24,3.4],[16,1.25,3.6],[16.7,1.22,3.2],[17.4,1.21,3],[18.2,1.19,3],[19,1.19,3],[19.8,1.17,2.9],[20.6,1.18,2.9],[21.4,1.16,2.6],[22.2,1.17,2.5],[23,1.18,2.2],[23.7,1.16,2.5],[24.4,1.17,2],[25,1.16,1.3],[10.4,1.26,.6],[11.1,1.23,.9],[11.9,1.22,.8],[12.5,1.2,1],[13.2,1.21,1.4],[13.9,1.19,1.7],[14.6,1.2,1.9],[15.3,1.18,2],[16.1,1.19,1.9],[16.9,1.17,1.8],[17.7,1.16,1.9],[18.5,1.15,1.8],[19.3,1.14,1.6],[20.2,1.15,1.4],[21,1.14,1.2],[21.9,1.15,1],[12.8,1.17,.7],[13.6,1.16,.5],[14.4,1.15,.5],[15.3,1.15,.6],[16.2,1.14,.5],[17.2,1.14,.5],[18,1.12,.4],[19,1.12,.4],[22.3,1.25,.8],[23,1.24,.6],[23.6,1.24,.6],[22.8,1.3,.4],[23.8,1.3,.3],[24.5,1.33,.3],[25,1.26,.4],[25.6,1.24,.4],[25.5,1.18,.8],[26,1.17,1],[26.5,1.16,1],[24.8,1.2,1],[28,1.26,.3],[28.5,1.27,.3],[28.9,1.26,.3],[28.6,1.23,.3],[29.2,1.27,.3],[28.1,1.18,.3],[27.6,1.17,.3]];

const typhoonSeries = [typhoon58472, typhoon58473, typhoonK2926, typhoonK2927, typhoon58663, typhoon58666, typhoon58764];

const envelope58472: P[] = [[9.6,1.76],[11,1.75],[12,1.75],[13,1.71],[14,1.66],[15,1.62],[15.5,1.58],[16,1.56],[17,1.48],[18,1.42],[18.8,1.36],[18.8,1.28],[17.6,1.2],[17,1.17],[16,1.17],[14.5,1.17],[13,1.18],[11.5,1.15],[10,1.15],[9.6,1.15]];
const envelope58473: P[] = [[9.6,1.78],[10.5,1.82],[11,1.79],[12,1.74],[13,1.72],[14,1.7],[15,1.62],[16,1.52],[17,1.42],[18,1.33],[19,1.27],[20,1.24],[21,1.22],[22,1.2],[22,1.16],[21,1.15],[19,1.14],[17,1.12],[14,1.11],[12,1.11],[10,1.12],[9.6,1.12]];
const envelopeK2926: P[] = [[9.6,1.5],[10.5,1.5],[11.5,1.46],[12.5,1.42],[13,1.38],[14.5,1.37],[16,1.32],[17.5,1.28],[18.5,1.28],[18.8,1.22],[17,1.17],[15,1.15],[13,1.15],[11,1.15],[9.6,1.15]];
const envelopeK2927: P[] = [[9.6,1.43],[11,1.42],[13,1.41],[14,1.42],[15,1.38],[16.5,1.35],[17.5,1.32],[18.5,1.3],[18.5,1.27],[17,1.24],[16,1.21],[15,1.2],[13,1.18],[11,1.17],[9.6,1.17]];
const envelope58663: P[] = [[9.6,1.66],[11,1.66],[12,1.58],[13,1.44],[14,1.36],[15,1.33],[16.5,1.31],[18.2,1.27],[18.2,1.17],[17,1.13],[15,1.11],[12,1.1],[9.6,1.1]];
const envelope58666: P[] = [[9.6,1.65],[10.5,1.66],[11.5,1.62],[13,1.58],[14,1.56],[15,1.55],[15.5,1.5],[16.5,1.47],[17,1.38],[18,1.3],[17,1.2],[15,1.18],[13,1.18],[11,1.16],[9.6,1.17]];
const envelope58764: P[] = [[9.6,1.56],[10,1.73],[11,1.71],[11.5,1.62],[13,1.62],[14,1.52],[15,1.44],[16,1.42],[17,1.4],[18,1.38],[19,1.38],[20,1.32],[21,1.28],[21.5,1.22],[21,1.14],[19,1.11],[16,1.11],[13,1.1],[10,1.1],[9.6,1.1]];
const winterEnvelopes = [envelope58472, envelope58473, envelopeK2926, envelopeK2927, envelope58663, envelope58666, envelope58764];

type Level = [number, P[]];
const levels58472: Level[] = [
[2,[[9.6,1.2],[11,1.2],[13,1.22],[15,1.28],[15.8,1.36],[15,1.46],[13,1.56],[11,1.62],[9.6,1.63]]],
[4,[[9.6,1.25],[11,1.24],[13,1.28],[14.2,1.38],[13,1.48],[11,1.56],[9.6,1.55]]],
[6,[[9.6,1.28],[11,1.27],[12.5,1.31],[13.4,1.39],[12.5,1.47],[11,1.52],[9.6,1.5]]],
[8,[[9.8,1.31],[11,1.3],[12.2,1.34],[12.7,1.39],[12.2,1.44],[11,1.48],[9.9,1.46]]],
[10,[[10.1,1.33],[11,1.32],[11.8,1.35],[12.1,1.39],[11.8,1.43],[11,1.46],[10.2,1.44]]],
[12,[[10.4,1.35],[11,1.35],[11.5,1.38],[11.6,1.4],[11.3,1.43],[10.8,1.44],[10.4,1.42]]],
[13.5,[[10.6,1.37],[11,1.37],[11.2,1.4],[11,1.43],[10.7,1.42]]]];
const levels58473: Level[] = [
[2,[[9.6,1.15],[12,1.14],[15,1.15],[17.5,1.18],[18.5,1.22],[16.5,1.3],[14,1.38],[12,1.44],[10.5,1.58],[9.6,1.62]]],
[4,[[9.6,1.16],[12,1.16],[15,1.18],[16.5,1.22],[15,1.28],[13,1.32],[11,1.38],[10,1.42],[9.6,1.42]]],
[6,[[9.6,1.18],[12,1.175],[15,1.2],[15.5,1.225],[14,1.27],[12.5,1.3],[11,1.35],[10.2,1.35],[9.6,1.3]]],
[8,[[10,1.2],[12,1.19],[14,1.21],[14.5,1.235],[13,1.27],[11.5,1.3],[10.5,1.32],[10,1.27]]],
[10,[[10.6,1.22],[11.5,1.22],[12.5,1.23],[12.7,1.25],[11.5,1.28],[10.7,1.28]]]];
const levelsK2926: Level[] = [
[2,[[9.6,1.17],[11,1.15],[12,1.17],[14,1.18],[16.5,1.2],[17.4,1.25],[16,1.31],[14,1.35],[12,1.41],[10.5,1.47],[9.6,1.47]]],
[4,[[9.6,1.18],[11.5,1.18],[13.5,1.2],[15.8,1.25],[14,1.31],[12,1.37],[10.5,1.42],[9.6,1.42]]],
[6,[[9.6,1.19],[11.5,1.19],[13,1.21],[14.5,1.26],[13,1.3],[11.5,1.36],[10.2,1.39],[9.6,1.38]]],
[8,[[9.7,1.2],[11,1.19],[12.5,1.22],[13.5,1.26],[12.5,1.3],[11,1.35],[9.9,1.36]]],
[10,[[9.9,1.21],[11,1.2],[12.2,1.23],[13,1.26],[12.2,1.3],[11,1.34],[10,1.33]]],
[12,[[10,1.22],[11,1.21],[12,1.24],[12.4,1.27],[11.8,1.31],[11,1.33],[10.1,1.32]]],
[14,[[10.3,1.24],[11,1.23],[11.6,1.26],[11.7,1.28],[11.3,1.31],[10.8,1.32],[10.3,1.3]]],
[15.5,[[10.6,1.25],[11,1.25],[11.2,1.28],[11,1.31],[10.7,1.31],[10.5,1.28]]]];
const levelsK2927: Level[] = [
[2,[[9.6,1.18],[11,1.175],[13,1.18],[15,1.22],[16.5,1.27],[15,1.35],[13,1.38],[11,1.4],[9.6,1.41]]],
[4,[[9.6,1.19],[11,1.18],[13,1.19],[15,1.23],[15.6,1.27],[14.5,1.32],[12.5,1.36],[9.6,1.38]]],
[6,[[9.7,1.19],[11,1.19],[13,1.2],[14.5,1.25],[14.5,1.28],[13,1.33],[11,1.35],[9.7,1.36]]],
[8,[[9.7,1.2],[13,1.21],[14.2,1.26],[13,1.31],[11,1.33],[9.7,1.33]]],
[10,[[9.8,1.21],[13,1.22],[14,1.26],[13,1.3],[11,1.32],[9.8,1.31]]],
[12,[[9.8,1.22],[13,1.23],[13.7,1.26],[13,1.29],[11,1.31],[9.9,1.3]]],
[14,[[10,1.23],[13,1.24],[13.3,1.26],[12.8,1.28],[11,1.3],[10,1.29]]],
[15.5,[[10.3,1.24],[12.5,1.245],[12.5,1.27],[11,1.29],[10.4,1.28]]]];
const levels58663: Level[] = [
[2,[[9.6,1.12],[12,1.11],[15,1.13],[17,1.16],[17.8,1.2],[16,1.26],[14,1.29],[12,1.32],[11,1.38],[10,1.44],[9.6,1.46]]],
[4,[[9.6,1.13],[12,1.13],[15,1.15],[16.5,1.2],[14.5,1.25],[12,1.28],[10,1.31],[9.6,1.31]]],
[6,[[9.6,1.14],[12,1.14],[15,1.16],[15.6,1.2],[14,1.24],[12,1.265],[10,1.29],[9.6,1.29]]],
[8,[[9.8,1.15],[12,1.15],[14.3,1.18],[14.7,1.2],[13.5,1.23],[12,1.25],[10,1.265]]],
[10,[[10,1.16],[12,1.16],[13.8,1.18],[14.1,1.2],[13,1.225],[11,1.245],[10,1.24]]],
[12,[[10.2,1.165],[12,1.17],[13.2,1.19],[13.3,1.205],[12.3,1.225],[11,1.235],[10.2,1.225]]],
[14,[[10.4,1.175],[12,1.18],[12.7,1.2],[12,1.22],[11,1.23],[10.4,1.22]]],
[15,[[10.7,1.185],[12,1.19],[12,1.21],[11,1.22],[10.7,1.21]]]];
const levels58666: Level[] = [
[2,[[9.6,1.2],[11,1.19],[13,1.2],[15,1.25],[16,1.34],[15,1.42],[13,1.5],[11,1.56],[9.6,1.58]]],
[4,[[9.6,1.22],[11,1.21],[13,1.25],[14.4,1.36],[13,1.46],[11,1.53],[9.6,1.54]]],
[6,[[9.6,1.24],[11,1.23],[12.8,1.29],[13.6,1.37],[12.8,1.44],[11,1.5],[9.6,1.5]]],
[8,[[9.7,1.26],[11,1.25],[12.4,1.3],[13,1.37],[12.4,1.43],[11,1.48],[9.8,1.47]]],
[10,[[9.9,1.28],[11,1.27],[12.1,1.31],[12.6,1.37],[12.1,1.42],[11,1.46],[10,1.44]]],
[12,[[10.1,1.3],[11,1.29],[11.9,1.33],[12.2,1.37],[11.8,1.41],[11,1.44],[10.2,1.42]]],
[14,[[10.4,1.32],[11,1.32],[11.5,1.35],[11.6,1.38],[11.3,1.41],[10.8,1.42],[10.4,1.39]]],
[15,[[10.7,1.35],[11,1.35],[11.2,1.38],[11,1.4],[10.7,1.39]]]];
const levels58764: Level[] = [
[2,[[9.6,1.12],[13,1.12],[17,1.13],[20,1.17],[20.5,1.2],[18,1.26],[15,1.29],[12,1.33],[10,1.38],[9.6,1.4]]],
[4,[[9.6,1.13],[13,1.13],[16,1.15],[18,1.2],[15.5,1.26],[12,1.3],[9.6,1.31]]],
[6,[[9.7,1.14],[13,1.14],[16,1.17],[17,1.2],[15,1.24],[12,1.275],[9.7,1.28]]],
[8,[[10,1.15],[13,1.15],[15.5,1.18],[16,1.2],[14.5,1.235],[12,1.26],[10,1.255]]],
[10,[[10,1.16],[13,1.16],[15,1.18],[15.4,1.2],[14,1.23],[12,1.245],[10.3,1.24]]],
[12,[[10.5,1.175],[13,1.175],[14.5,1.195],[13.5,1.225],[12,1.235],[10.5,1.22]]],
[13.5,[[11,1.185],[13,1.185],[13.7,1.2],[13,1.22],[11.5,1.22]]]];
const winterLevels = [levels58472, levels58473, levelsK2926, levelsK2927, levels58663, levels58666, levels58764];

const dots58472: P[] = [[10.13,1.967],[10,1.88],[10.5,1.88],[10.7,1.88],[10.75,1.855],[10.35,1.845],[11.6,1.887],[12.45,1.87],[12.1,1.845],[11.85,1.83],[13.35,1.78],[13.75,1.76],[14.45,1.785],[15.3,1.75],[10.3,1.79],[10.95,1.79],[12.35,1.78],[16,1.66],[16.3,1.68],[16.5,1.61],[14.65,1.63],[20.3,1.36],[22.8,1.265],[18.7,1.17],[19.2,1.17],[19.05,1.33],[18.7,1.39],[18.1,1.475],[17.6,1.51],[17.4,1.46],[17,1.45],[18.4,1.22],[18.6,1.265],[18.1,1.22],[18.2,1.36],[17.5,1.28],[17.3,1.205],[16.9,1.165],[16.4,1.17],[15.9,1.14],[14.4,1.17],[13.7,1.17],[11.15,1.14],[10.7,1.14],[10,1.16],[15.75,1.23],[15.65,1.58],[15.3,1.57]];
const dots58473: P[] = [[10.9,2.01],[11.25,1.95],[11.75,1.93],[11.75,1.9],[11.25,1.86],[10.05,1.89],[13.45,1.94],[13.95,1.96],[13.45,1.89],[15.1,1.88],[15.15,1.855],[14.8,1.755],[13.45,1.76],[12.95,1.76],[10.3,1.85],[10.5,1.82],[10,1.78],[11.95,1.755],[11.5,1.77],[14,1.73],[14.55,1.67],[15.5,1.58],[15.8,1.54],[16.3,1.52],[17.25,1.56],[17.8,1.57],[18.7,1.5],[17.5,1.505],[17.6,1.475],[16.8,1.48],[17.4,1.405],[16.7,1.415],[18.2,1.405],[18.45,1.42],[18.45,1.445],[20.5,1.415],[18.1,1.355],[19.45,1.355],[19.2,1.335],[18.7,1.31],[21.1,1.265],[22.1,1.245],[21.7,1.235],[21.25,1.22],[23,1.165],[22.85,1.145],[21.7,1.13],[22.1,1.165],[21,1.145],[19.95,1.13],[18.5,1.12],[16.85,1.115],[15.85,1.115],[13.8,1.11],[12.55,1.1],[11.7,1.11],[10.15,1.115],[10.8,1.115],[19.95,1.22],[19.25,1.25]];
const dotsK2926: P[] = [[10.05,1.85],[10.05,1.71],[11.55,1.705],[10.25,1.66],[10.5,1.66],[12.15,1.63],[11.95,1.605],[11.25,1.585],[11.6,1.57],[10.05,1.58],[13.75,1.565],[12.35,1.55],[12,1.53],[12.85,1.495],[18.15,1.49],[14.05,1.46],[14.55,1.44],[13.05,1.45],[16.65,1.41],[15.65,1.42],[15.3,1.41],[14.8,1.395],[13.8,1.41],[18.4,1.36],[18.15,1.355],[19.15,1.325],[18.6,1.31],[20.7,1.29],[21.1,1.27],[20.6,1.245],[20.1,1.24],[19.6,1.28],[19.55,1.255],[20.9,1.16],[19.15,1.175],[18.8,1.15],[18.8,1.11],[17.7,1.13],[16.8,1.125],[15.85,1.105],[15.05,1.11],[13.9,1.14],[12.65,1.14],[10.9,1.12],[10.45,1.11],[10.05,1.12],[11.6,1.14],[17.75,1.22],[17.1,1.195],[18.2,1.21],[10.3,1.55],[10.6,1.57],[11,1.54],[12.7,1.49],[13.4,1.42],[15,1.38],[16.2,1.35],[17,1.33],[17.9,1.32]];
const dotsK2927: P[] = [[10.1,1.62],[11.3,1.59],[17.15,1.55],[10.1,1.545],[10.55,1.53],[11.1,1.54],[11.45,1.53],[12.95,1.52],[13.25,1.515],[13.85,1.505],[12.35,1.485],[13.95,1.46],[10,1.465],[11.2,1.485],[15.4,1.44],[16.05,1.435],[14.5,1.42],[15,1.4],[16.8,1.39],[17.65,1.36],[18.55,1.37],[18.8,1.31],[18.9,1.245],[19.5,1.24],[19.65,1.225],[18.25,1.245],[17.85,1.24],[16.8,1.205],[16.55,1.18],[16.45,1.15],[15.4,1.195],[13.2,1.145],[11.15,1.15],[10.1,1.165],[13.85,1.16],[14.45,1.18],[12.15,1.16],[17.4,1.33],[18.05,1.33],[12,1.47],[13,1.47],[11,1.46],[10.4,1.46],[15.8,1.38]];
const dots58663: P[] = [[10.1,2.01],[10.4,1.99],[10.8,2],[10.8,1.91],[12.5,1.89],[10.4,1.89],[11.25,1.88],[10,1.83],[10.2,1.855],[11.35,1.835],[10.95,1.855],[10,1.77],[12.2,1.77],[11.8,1.745],[12.5,1.72],[13.4,1.68],[11.25,1.73],[12.3,1.655],[12.75,1.62],[12.4,1.61],[13.5,1.545],[12.7,1.555],[14.1,1.48],[13.55,1.475],[13.55,1.44],[14.4,1.41],[14.6,1.375],[13.55,1.385],[15.05,1.365],[15.65,1.37],[16.2,1.35],[17.3,1.335],[17.75,1.305],[18.15,1.325],[19,1.37],[19.2,1.37],[20.15,1.365],[21.5,1.31],[20.05,1.285],[19.85,1.26],[18.85,1.275],[18.65,1.24],[19.5,1.225],[19.65,1.185],[22.05,1.245],[22.15,1.22],[21.3,1.23],[21.65,1.22],[20.65,1.19],[20.4,1.22],[20.8,1.14],[19.55,1.125],[19.25,1.125],[18.3,1.125],[17.55,1.11],[16.9,1.125],[15.05,1.105],[13.55,1.105],[12.7,1.1],[11.8,1.1],[10.75,1.105],[10.1,1.125],[15.95,1.115],[10.2,1.75],[10.5,1.78],[10.1,1.7],[10.8,1.72],[11.5,1.68],[12,1.62],[12.4,1.52],[12.9,1.46]];
const dots58666: P[] = [[10.3,1.89],[11.65,1.84],[10,1.757],[10.85,1.773],[11.4,1.74],[11.85,1.725],[11.55,1.69],[13.75,1.73],[16.8,1.7],[13.15,1.695],[14,1.63],[14.55,1.65],[15.25,1.63],[15.7,1.605],[12.6,1.64],[13.05,1.65],[16.8,1.49],[17.55,1.455],[19.55,1.52],[21.45,1.445],[23.25,1.4],[19.6,1.44],[19.85,1.415],[18.65,1.415],[18,1.395],[18.8,1.365],[20.2,1.265],[22.1,1.245],[19.6,1.28],[19.1,1.26],[18.8,1.21],[18,1.225],[16.95,1.18],[14.6,1.145],[12.75,1.15],[10.25,1.135],[11.65,1.17],[15.85,1.2],[14,1.17],[16.5,1.245],[18.35,1.325],[14.2,1.58],[15,1.58],[15.6,1.54],[16.5,1.5],[17.3,1.42],[17.8,1.3],[17.6,1.25],[18.5,1.28],[19.2,1.29]];
const dots58764: P[] = [[10,2.28],[10.2,2.28],[10.4,2.2],[10.5,2.125],[10.5,2.09],[10.4,2.015],[10.3,2],[10.5,1.96],[10.15,1.94],[10,1.9],[10.15,1.855],[10.65,1.85],[11.3,1.95],[11.5,1.925],[11.7,1.895],[12.5,1.86],[12.7,1.83],[11.55,1.785],[11.95,1.79],[13.9,1.785],[14.1,1.71],[12.7,1.74],[11.7,1.715],[10.6,1.76],[12.2,1.69],[13.55,1.67],[14.55,1.625],[18.2,1.6],[17.65,1.55],[14.3,1.56],[15.05,1.53],[15.5,1.52],[17.2,1.49],[17.45,1.465],[19.25,1.45],[20.5,1.45],[21.1,1.42],[17.75,1.41],[18.8,1.4],[18.4,1.395],[20.5,1.39],[21.05,1.38],[19.95,1.335],[21.3,1.325],[22.6,1.325],[22.3,1.32],[23.55,1.275],[21.7,1.29],[23.1,1.24],[21.85,1.235],[22.35,1.235],[22.7,1.21],[22.9,1.155],[23.2,1.18],[23.5,1.2],[21.6,1.12],[21,1.125],[19.65,1.11],[14.6,1.095],[11.7,1.095],[10,1.11],[11.5,1.66],[12.5,1.65],[13.4,1.62],[13.8,1.58],[14.2,1.48],[15.2,1.45],[16,1.45],[17.1,1.42],[19,1.35],[20,1.32],[22,1.27],[22.4,1.2],[21.8,1.18]];
const winterDots = [dots58472, dots58473, dotsK2926, dotsK2927, dots58663, dots58666, dots58764];

// layout
const rowBox = [[25, 224.7], [293.3, 492.7], [562.7, 761.3], [834, 1042.5], [1104.3, 1312.3], [1375, 1583], [1645, 1853]];
const geomSmall = { L: { axis: 65, x10: 76, xEnd: 293.3, cb: [308, 324] }, R: { axis: 416.5, x10: 432.3, xEnd: 644.7, cb: [659, 675] } };
const geomLarge = { L: { axis: 62, x10: 74, xEnd: 301, cb: [316, 333] }, R: { axis: 427.3, x10: 443, xEnd: 665, cb: [680, 697] } };
const titleY = [[38, 37], [304, 305], [573, 572], [847, 845], [1114, 1116], [1386, 1387], [1657, 1657]];
const titleX = [[135, 240.6, 494.7, 583.7], [135, 240.6, 495, 584.5], [135, 241.5, 492.5, 584], [132.7, 243.7, 510, 604], [135.7, 245, 510, 602], [135, 244, 511.5, 604], [135, 244, 513, 605]];
const xLabelY = [[255, 253], [523, 521], [791, 788], [1073, 1072], [1343, 1342], [1614, 1612], [1884, 1885]];

const FONT = '"Liberation Serif", "Noto Sans CJK SC", serif';
const INK = "#3c3c3c";

function jet(t: number) {
  const c = (v: number) => Math.round(255 * Math.max(0, Math.min(1, v)));
  return d3.rgb(c(1.5 - Math.abs(4 * t - 3)), c(1.5 - Math.abs(4 * t - 2)), c(1.5 - Math.abs(4 * t - 1))).formatHex();
}

const jetStops = d3.range(0, 1.0001, 0.0625);

function Panel({ row, winter }: { row: number; winter: boolean }) {
  const large = row >= 3;
  const g = (large ? geomLarge : geomSmall)[winter ? "R" : "L"];
  const [top, bottom] = rowBox[row];
  const maxX = winter ? 24 : 30;
  const x = d3.scaleLinear().domain([10, maxX]).range([g.x10, g.xEnd]);
  const y = d3.scaleLinear().domain([1, 2.4]).range([bottom, top]);
  const xTicks = winter ? xTicksWinter : xTicksTyphoon;
  const cbTicks = winter ? cbTicksWinter : cbTicksTyphoon;
  const cbMax = winter ? 16 : 8;
  const cy = d3.scaleLinear().domain([0, cbMax]).range([bottom, top]);
  const radius = large ? 3.8 : 3.6;
  const id = `${winter ? "w" : "t"}${row}`;
  const closed = d3.line<P>().x((d) => x(d[0])).y((d) => y(d[1])).curve(d3.curveCatmullRomClosed.alpha(0.5));
  const labelOffset = winter && large ? 2 : 0;
  const tx = titleX[row];
  const midY = (top + bottom) / 2 + 1;
  const ylabX = winter ? (large ? 397 : 385) : large ? 30 : 33;
  const showCbLabel = !winter || !large;
  const cbLabelX = winter ? 701 : large ? 356 : 347;
  const blurFor = (lv: number) => (lv <= 2 ? "url(#blurLow)" : lv <= 4 ? "url(#blurMid)" : "url(#blurHigh)");
  return (
    <g fontFamily={FONT} fill={INK}>
      <text x={tx[winter ? 2 : 0]} y={titleY[row][winter ? 1 : 0]} fontSize={13} textAnchor="middle" dominantBaseline="central">{winter ? "冬季" : "台风"}</text>
      <text x={tx[winter ? 3 : 1]} y={titleY[row][winter ? 1 : 0]} fontSize={13} textAnchor="middle" dominantBaseline="central">{stations[row]}</text>

      {winter ? (
        <g>
          <clipPath id={`${id}-left`}>
            <rect x={x(9.78)} y={top} width={g.xEnd - x(9.78) + 10} height={bottom - top} />
          </clipPath>
          <clipPath id={`${id}-env`}>
            <path d={closed(winterEnvelopes[row]) || ""} />
          </clipPath>
          <g clipPath={`url(#${id}-left)`}>
            <path d={closed(winterEnvelopes[row]) || ""} fill={jet(0.02)} filter="url(#lumpy)" />
          </g>
          {winterDots[row].map((d, i) => <circle key={i} cx={x(d[0])} cy={y(d[1])} r={radius} fill={jet(0.02)} />)}
          <g clipPath={`url(#${id}-left)`}>
            <g clipPath={`url(#${id}-env)`}>
              {winterLevels[row].map(([lv, pts], i) => <path key={i} d={closed(pts) || ""} fill={jet(lv / 16)} filter={blurFor(lv)} />)}
            </g>
          </g>
        </g>
      ) : (
        <g>
          {[...typhoonSeries[row]].sort((a, b) => a[2] - b[2]).map((d, i) => (
            <circle key={i} cx={x(d[0])} cy={y(d[1])} r={radius} fill={jet(d[2] / 8)} />
          ))}
        </g>
      )}

      <path d={`M${g.axis},${top}V${bottom}H${g.xEnd}`} fill="none" stroke="#777" strokeWidth={0.9} />
      {yTicks.map((t) => (
        <g key={t}>
          <line x1={g.axis} x2={g.axis + 2} y1={y(t)} y2={y(t)} stroke="#777" strokeWidth={0.8} />
          <text x={g.axis - 5} y={y(t)} fontSize={13} textAnchor="end" dominantBaseline="central">{t.toFixed(1)}</text>
        </g>
      ))}
      {xTicks.map((t) => (
        <g key={t}>
          <line x1={x(t)} x2={x(t)} y1={bottom} y2={bottom - 2} stroke="#777" strokeWidth={0.8} />
          <text x={x(t) + labelOffset} y={bottom + 12.5} fontSize={13} textAnchor="middle" dominantBaseline="central">{t}</text>
        </g>
      ))}
      <text x={winter ? (large ? 547 : 530) : large ? 181.5 : 178} y={xLabelY[row][winter ? 1 : 0]} fontSize={13.5} textAnchor="middle" dominantBaseline="central">平均风速(m/s)</text>
      <text transform={`translate(${ylabX},${midY}) rotate(-90)`} fontSize={14} textAnchor="middle" dominantBaseline="central">阵风因子</text>

      <rect x={g.cb[0]} y={top} width={g.cb[1] - g.cb[0]} height={bottom - top} fill="url(#jetGrad)" />
      {cbTicks.map((t) => (
        <text key={t} x={g.cb[1] + (large ? 6 : 4)} y={cy(t)} fontSize={13} textAnchor="start" dominantBaseline="central">{t}</text>
      ))}
      {showCbLabel && (
        <text transform={`translate(${cbLabelX},${midY}) rotate(-90)`} fontSize={13} letterSpacing={1.5} textAnchor="middle" dominantBaseline="central">概率(%)</text>
      )}
    </g>
  );
}

export default function App() {
  return (
    <svg width={766} height={1923} viewBox="0 0 766 1923" style={{ position: "absolute", left: 0, top: 0, display: "block", background: "#fff" }}>
      <defs>
        <linearGradient id="jetGrad" x1="0" x2="0" y1="1" y2="0">
          {jetStops.map((t) => <stop key={t} offset={t} stopColor={jet(t)} />)}
        </linearGradient>
        <filter id="blurHigh" x="-40%" y="-40%" width="180%" height="180%">
          <feGaussianBlur stdDeviation={2.4} />
        </filter>
        <filter id="blurMid" x="-40%" y="-40%" width="180%" height="180%">
          <feGaussianBlur stdDeviation={3.5} />
        </filter>
        <filter id="blurLow" x="-40%" y="-40%" width="180%" height="180%">
          <feGaussianBlur stdDeviation={6} />
        </filter>
        <filter id="lumpy" x="-10%" y="-10%" width="120%" height="120%" colorInterpolationFilters="sRGB">
          <feTurbulence type="fractalNoise" baseFrequency={0.14} numOctaves={1} seed={4} result="n" />
          <feDisplacementMap in="SourceGraphic" in2="n" scale={11} xChannelSelector="R" yChannelSelector="G" />
        </filter>
        <filter id="soft" filterUnits="userSpaceOnUse" x={0} y={0} width={766} height={1923}>
          <feGaussianBlur stdDeviation={0.4} />
        </filter>
      </defs>
      <g filter="url(#soft)">
        {rowBox.map((_, row) => (
          <g key={row}>
            <Panel row={row} winter={false} />
            <Panel row={row} winter={true} />
          </g>
        ))}
      </g>
    </svg>
  );
}
